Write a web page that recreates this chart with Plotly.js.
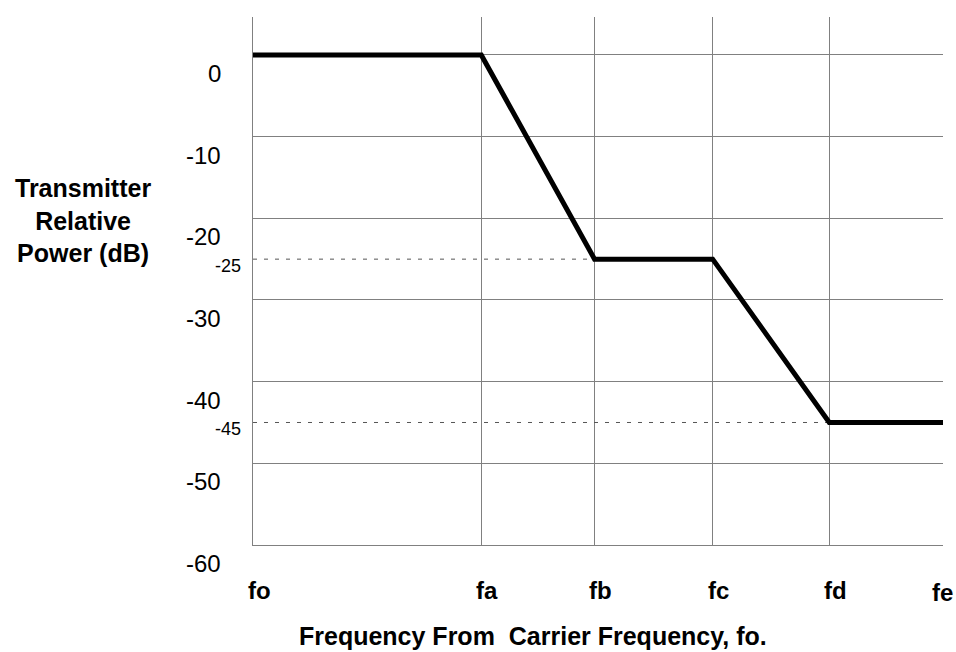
<!DOCTYPE html>
<html>
<head>
<meta charset="utf-8">
<script src="https://cdn.plot.ly/plotly-3.0.1.min.js"></script>
<style>html,body{margin:0;padding:0;background:#fff;}#chart{width:956px;height:652px;}</style>
</head>
<body>
<div id="chart"></div>
<script>
// ---- data ----
var freqLabels = ["fo", "fa", "fb", "fc", "fd", "fe"];
var freqPos    = [0, 1.985, 2.97, 3.997, 5.011, 6];
var powerDb    = [0, 0, -25, -25, -45, -45];
var dbTicks    = [0, -10, -20, -30, -40, -50, -60];
var refLevels  = [-25, -45];
var refEndIdx  = [2, 4];

var FONT = "Liberation Sans, Arial, Helvetica, sans-serif";

var traces = [];
refLevels.forEach(function (lv, i) {
  traces.push({
    x: [0, freqPos[refEndIdx[i]]],
    y: [lv, lv],
    mode: "lines",
    line: {color: "#555555", width: 1, dash: "4px,7px"},
    hoverinfo: "skip",
    showlegend: false
  });
});
traces.push({
  x: freqPos,
  y: powerDb,
  mode: "lines",
  line: {color: "#000000", width: 5},
  cliponaxis: false,
  showlegend: false
});

var annotations = [];
dbTicks.forEach(function (v) {
  annotations.push({
    x: 0, xref: "x", y: v, yref: "y", text: String(v),
    xanchor: "right", yanchor: "middle", xshift: -30, yshift: -18.5,
    showarrow: false, font: {family: FONT, size: 24, color: "#000"}
  });
});
refLevels.forEach(function (v) {
  annotations.push({
    x: 0, xref: "x", y: v, yref: "y", text: String(v),
    xanchor: "right", yanchor: "middle", xshift: -10, yshift: -6.5,
    showarrow: false, font: {family: FONT, size: 18, color: "#000"}
  });
});
freqLabels.forEach(function (t, i) {
  var last = (i === freqLabels.length - 1);
  annotations.push({
    x: freqPos[i], xref: "x", y: 0, yref: "paper", text: "<b>" + t + "</b>",
    xanchor: "center", yanchor: "middle", xshift: last ? -1 : 6, yshift: last ? -47 : -45,
    showarrow: false, font: {family: FONT, size: 24, color: "#000"}
  });
});
annotations.push({
  x: 0, xref: "paper", y: 0.614, yref: "paper",
  text: "<b>Transmitter<br>Relative<br>Power (dB)</b>",
  xanchor: "center", yanchor: "middle", xshift: -170, align: "center",
  showarrow: false, font: {family: FONT, size: 25, color: "#000"}
});
annotations.push({
  x: 0, xref: "paper", y: 0, yref: "paper",
  text: "<b>Frequency From\u00a0 Carrier Frequency, fo.</b>",
  xanchor: "left", yanchor: "middle", xshift: 44, yshift: -91,
  showarrow: false, font: {family: FONT, size: 25, color: "#000"}
});

var layout = {
  width: 956, height: 652,
  margin: {l: 252.7, r: 13.3, t: 17, b: 107, pad: 0},
  paper_bgcolor: "#ffffff", plot_bgcolor: "#ffffff",
  showlegend: false,
  xaxis: {
    range: [0, 6], tickvals: freqPos, showticklabels: false, ticks: "",
    showgrid: true, gridcolor: "#808080", gridwidth: 1,
    zeroline: false, showline: true, linecolor: "#808080", linewidth: 1.2
  },
  yaxis: {
    range: [-60, 4.65], tickvals: dbTicks, showticklabels: false, ticks: "",
    showgrid: true, gridcolor: "#808080", gridwidth: 1,
    zeroline: false, showline: true, linecolor: "#808080", linewidth: 1.2
  },
  annotations: annotations
};

Plotly.newPlot("chart", traces, layout, {displayModeBar: false, staticPlot: true});
</script>
</body>
</html>
